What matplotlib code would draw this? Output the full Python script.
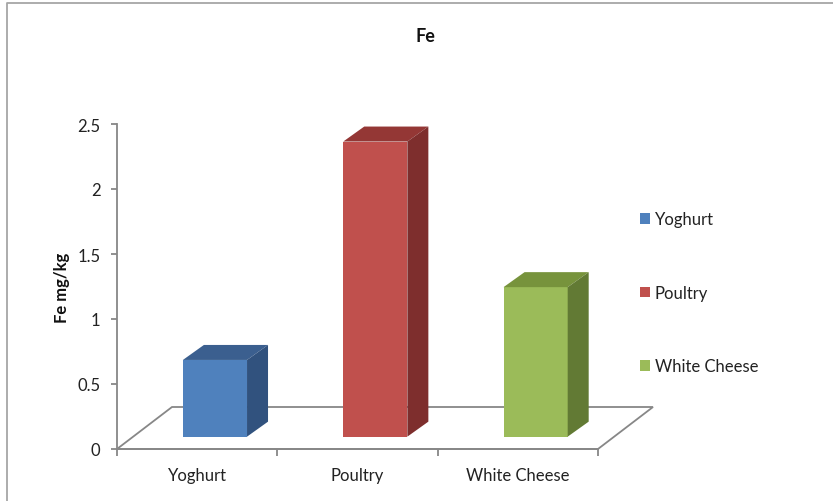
import matplotlib
matplotlib.use("Agg")
import matplotlib.pyplot as plt
from matplotlib.patches import Polygon, Patch
from matplotlib.lines import Line2D

# data
categories = ["Yoghurt", "Poultry", "White Cheese"]
fe_values = [0.59, 2.27, 1.15]
front_colors = ["#4F81BD", "#C0504D", "#9BBB59"]
top_colors = ["#3B5F8F", "#943735", "#77933C"]
side_colors = ["#31527E", "#7E2E2D", "#627A34"]
y_ticks = [0, 0.5, 1, 1.5, 2, 2.5]

plt.rcParams["font.family"] = ["Lato", "DejaVu Sans"]
W, H = 833, 502
fig = plt.figure(figsize=(W / 100, H / 100), dpi=100)

# pixel geometry of the plot area (y axis at px 117, 0..2.5 -> px 450..125)
px_x = 160.33
px_y = 130.0
x_lo, x_hi = -0.5, 2.85
ax = fig.add_axes([117 / W, (H - 450) / H, (x_hi - x_lo) * px_x / W, 2.5 * px_y / H])
ax.set_xlim(x_lo, x_hi)
ax.set_ylim(0, 2.5)

grey = "#878787"
# floor (oblique depth)
fdx, fdy = 55 / px_x, 42 / px_y
floor = Polygon([(-0.5, 0), (2.5, 0), (2.5 + fdx, fdy), (-0.5 + fdx, fdy)],
                closed=True, facecolor="white", edgecolor=grey, lw=1.3,
                zorder=1, clip_on=False)
ax.add_patch(floor)

# bars: front face + top + side
bw = 0.40
shift = 0.111
base = 0.095
bdx, bdy = 21 / px_x, 15 / px_y
xs = [i + shift for i in range(len(categories))]
ax.bar(xs, fe_values, width=bw, bottom=base, color=front_colors,
       edgecolor="none", zorder=3, clip_on=False)
for x, v, tc, sc in zip(xs, fe_values, top_colors, side_colors):
    x0, x1 = x - bw / 2, x + bw / 2
    top = base + v
    ax.add_patch(Polygon([(x0, top), (x1, top), (x1 + bdx, top + bdy), (x0 + bdx, top + bdy)],
                         closed=True, facecolor=tc, edgecolor="none", zorder=3, clip_on=False))
    ax.add_patch(Polygon([(x1, base), (x1 + bdx, base + bdy), (x1 + bdx, top + bdy), (x1, top)],
                         closed=True, facecolor=sc, edgecolor="none", zorder=3, clip_on=False))

# axes styling
for s in ["top", "right"]:
    ax.spines[s].set_visible(False)
ax.spines["left"].set_color(grey)
ax.spines["bottom"].set_color(grey)
ax.spines["left"].set_linewidth(1.3)
ax.spines["bottom"].set_linewidth(1.3)
ax.spines["bottom"].set_bounds(-0.5, 2.5)

ax.set_yticks(y_ticks)
ax.set_yticklabels([f"{t:g}" for t in y_ticks])
ax.tick_params(axis="y", direction="out", length=4, width=1.3, color=grey,
               labelsize=12, labelcolor="#222222", pad=8)
ax.set_xticks(range(len(categories)))
ax.set_xticklabels(categories)
ax.set_xticks([-0.5, 0.5, 1.5, 2.5], minor=True)
ax.tick_params(axis="x", which="major", length=0, labelsize=12,
               labelcolor="#222222", pad=13)
ax.tick_params(axis="x", which="minor", direction="out", length=5, width=1.3,
               color=grey)

ax.set_ylabel("Fe mg/kg", fontsize=12, fontweight="bold", color="#111111")
ax.yaxis.set_label_coords(-0.088, 0.5)

fig.text(425 / W, 1 - 37 / H, "Fe", ha="center", va="center",
         fontsize=13, fontweight="bold", color="#111111")

handles = [Patch(facecolor=c, edgecolor="none", label=l)
           for c, l in zip(front_colors, categories)]
fig.legend(handles=handles, loc="center left", bbox_to_anchor=(640 / W, 1 - 294 / H),
           frameon=False, fontsize=12, handlelength=0.6, handleheight=0.6,
           handletextpad=0.3, labelspacing=3.45, borderpad=0, borderaxespad=0,
           labelcolor="#222222")

# outer chart border (left and top visible)
fig.add_artist(Line2D([7 / W, 7 / W, 1], [0, 1 - 4 / H, 1 - 4 / H],
                      transform=fig.transFigure, color="#a6a6a6", lw=1.3))

fig.savefig("out.png", dpi=100)
